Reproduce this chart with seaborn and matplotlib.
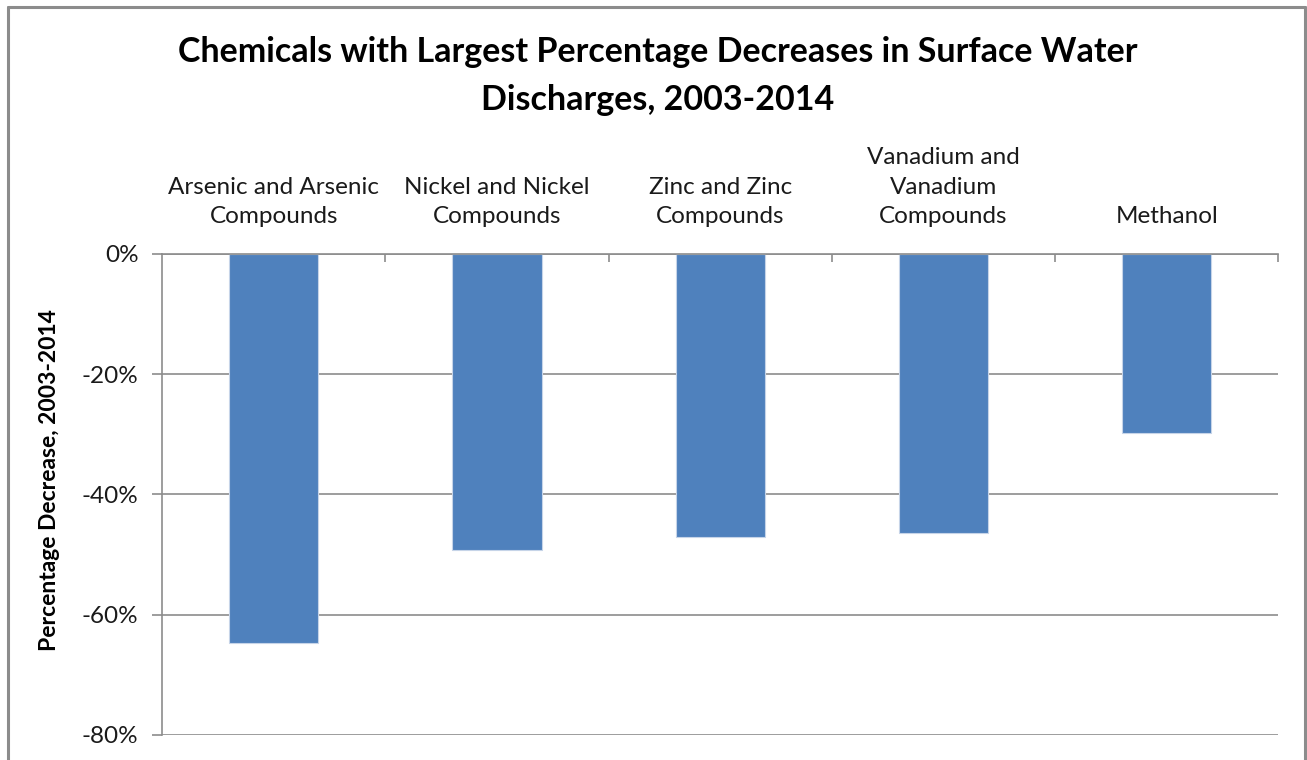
import matplotlib
matplotlib.use("Agg")
import matplotlib.pyplot as plt
import matplotlib.ticker as mticker
from matplotlib.lines import Line2D
import seaborn as sns

# data
categories = [
    "Arsenic and Arsenic\nCompounds",
    "Nickel and Nickel\nCompounds",
    "Zinc and Zinc\nCompounds",
    "Vanadium and\nVanadium\nCompounds",
    "Methanol",
]
pct_change = [-64.7, -49.2, -47.1, -46.4, -29.8]
y_ticks = [0, -20, -40, -60, -80]

sns.set_theme(style="white")
plt.rcParams["font.family"] = ["Lato", "DejaVu Sans"]

fig = plt.figure(figsize=(13.07, 7.6), dpi=100)
ax = fig.add_axes([0.124, 0.033, 0.854, 0.633])

sns.barplot(x=categories, y=pct_change, color="#4F81BD", width=0.4,
            saturation=1, edgecolor="#C6D4E8", linewidth=0.8, ax=ax)

ax.set_xlim(-0.5, len(categories) - 0.5)
ax.set_ylim(-80, 0)
ax.set_yticks(y_ticks)
ax.yaxis.set_major_formatter(mticker.FuncFormatter(lambda v, p: f"{v:.0f}%"))
ax.yaxis.grid(True, color="#8C8C8C", linewidth=1.2)
ax.set_axisbelow(True)

# category labels above the zero line
ax.xaxis.tick_top()
ax.tick_params(axis="x", which="major", length=0, pad=19, labelsize=17.5,
               colors="#1a1a1a")
ax.set_xticks(range(len(categories)), categories, linespacing=1.5,
              va="bottom")
ax.set_xticks([i + 0.5 for i in range(len(categories))], minor=True)
ax.tick_params(axis="x", which="minor", direction="in", length=6,
               color="#8C8C8C", width=1.2, top=True, bottom=False)

ax.tick_params(axis="y", which="major", left=True, direction="out",
               length=7, width=1.2, color="#8C8C8C", pad=10,
               labelsize=17.5, labelcolor="#1a1a1a")

for side in ["right", "bottom"]:
    ax.spines[side].set_visible(False)
ax.spines["left"].set_color("#8C8C8C")
ax.spines["left"].set_linewidth(1.2)
ax.spines["top"].set_color("#8C8C8C")
ax.spines["top"].set_linewidth(1.2)

ax.set_xlabel("")
ax.set_ylabel("Percentage Decrease, 2003-2014", fontsize=16.5,
              fontweight="bold", color="black")
ax.yaxis.set_label_coords(-0.091, 0.53)

fig.suptitle("Chemicals with Largest Percentage Decreases in Surface Water\n"
             "Discharges, 2003-2014", x=0.503, y=0.952, fontsize=24.5,
             fontweight="bold", linespacing=1.6, color="black")

# outer chart frame (bottom edge is off-picture)
frame_kw = dict(color="#8C8C8C", linewidth=2.2, transform=fig.transFigure)
fig.add_artist(Line2D([0.0065, 0.0065], [0.0, 0.991], **frame_kw))
fig.add_artist(Line2D([0.0065, 0.9985], [0.991, 0.991], **frame_kw))
fig.add_artist(Line2D([0.9985, 0.9985], [0.0, 0.991], **frame_kw))

fig.savefig("out.png", dpi=100)
